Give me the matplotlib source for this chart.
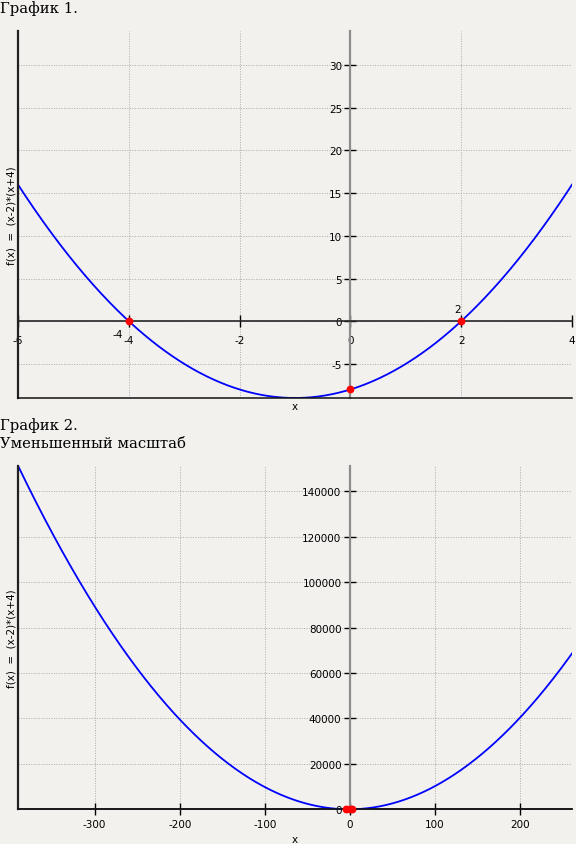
import numpy as np
import matplotlib
matplotlib.use("Agg")
import matplotlib.pyplot as plt

# Function shown on both charts: f(x) = (x-2)*(x+4)
roots = [-4, 2]
marked_x = [-4, 2, 0]

# Chart 1: close-up view
x1_range = (-6, 4)
y1_range = (-9, 34)
x1_ticks = [-6, -4, -2, 0, 2, 4]
y1_ticks = [-5, 0, 5, 10, 15, 20, 25, 30]

# Chart 2: zoomed-out view
x2_range = (-390, 261)
x2_ticks = [-300, -200, -100, 0, 100, 200]
y2_ticks = [0, 20000, 40000, 60000, 80000, 100000, 120000, 140000]

ylabel_text = "f(x)  =  (x-2)*(x+4)"
title1 = "График 1."
title2_lines = ["График 2.", "Уменьшенный масштаб"]

BG = "#f2f1ed"
TICK_FONT = 7.5
TITLE_FONT = 10.6


def f(x):
    return (x - roots[1]) * (x - roots[0])


def style_axes(ax, xlim, ylim, xticks, yticks, xpad):
    ax.set_facecolor(BG)
    ax.set_xlim(*xlim)
    ax.set_ylim(*ylim)
    ax.set_xticks(xticks)
    ax.set_yticks(yticks)
    ax.set_xticklabels([str(t) for t in xticks])
    ax.set_yticklabels([str(t) for t in yticks])
    for s in ("top", "right"):
        ax.spines[s].set_visible(False)
    ax.spines["left"].set_position(("data", 0))
    ax.spines["left"].set_color("#8c8c8c")
    ax.spines["left"].set_linewidth(1.6)
    ax.spines["bottom"].set_position(("data", 0))
    ax.spines["bottom"].set_color("#262626")
    ax.spines["bottom"].set_linewidth(1.2)
    ax.tick_params(axis="both", direction="inout", length=8, width=1.0,
                   color="black", labelsize=TICK_FONT, labelcolor="black")
    ax.tick_params(axis="y", pad=2.0)
    ax.tick_params(axis="x", pad=xpad)
    ax.grid(True, color="#b4b4b4", linestyle=(0, (1.2, 1.4)), linewidth=0.7)
    # outer frame lines on the left and bottom edges
    ax.plot([0, 0], [0, 1], transform=ax.transAxes, color="#222222",
            lw=1.6, clip_on=False, zorder=5)
    ax.plot([0, 1], [0, 0], transform=ax.transAxes, color="#111111",
            lw=1.1, clip_on=False, zorder=5)
    ax.set_ylabel(ylabel_text, fontsize=TICK_FONT)
    ax.yaxis.set_label_coords(-0.002, 0.5)
    ax.set_xlabel("x", fontsize=TICK_FONT)


fig = plt.figure(figsize=(5.76, 8.45), dpi=100, facecolor=BG)

W, H = 576.0, 845.0
ax1 = fig.add_axes([18 / W, (H - 399) / H, 554 / W, 367 / H])
ax2 = fig.add_axes([18 / W, (H - 810.3) / H, 554 / W, 343.6 / H])

# --- Chart 1 ---
style_axes(ax1, x1_range, y1_range, x1_ticks, y1_ticks, xpad=5.6)
x1 = np.linspace(x1_range[0], x1_range[1], 400)
ax1.plot(x1, f(x1), color="#0000ff", lw=1.3, zorder=3)
mx = np.array(marked_x, dtype=float)
ax1.plot(mx, f(mx), "o", color="#ff0000", ms=4.6, zorder=6, clip_on=False)
ax1.xaxis.set_label_coords(0.5, -0.007)
ax1.text(roots[0] - 0.1, f(roots[0]) - 1.45, str(roots[0]), ha="right",
         va="center", fontsize=TICK_FONT)
ax1.text(roots[1], f(roots[1]) + 1.4, str(roots[1]), ha="right",
         va="center", fontsize=TICK_FONT)

# --- Chart 2 ---
y2_range = (float(np.min(f(np.linspace(*x2_range, 2001)))), float(f(x2_range[0])))
style_axes(ax2, x2_range, y2_range, x2_ticks, y2_ticks, xpad=3.0)
x2 = np.linspace(x2_range[0], x2_range[1], 800)
ax2.plot(x2, f(x2), color="#0000ff", lw=1.3, zorder=3)
ax2.plot(mx, f(mx), "o", color="#ff0000", ms=4.6, zorder=6, clip_on=False)
ax2.xaxis.set_label_coords(0.5, -0.072)

# Titles
fig.text(0.0, 1 - 12.7 / H, title1, family="DejaVu Serif",
         fontsize=TITLE_FONT, va="baseline", ha="left")
fig.text(0.0, 1 - 430 / H, title2_lines[0], family="DejaVu Serif",
         fontsize=TITLE_FONT, va="baseline", ha="left")
fig.text(0.0, 1 - 448 / H, title2_lines[1], family="DejaVu Serif",
         fontsize=TITLE_FONT, va="baseline", ha="left")

fig.savefig("out.png", dpi=100, facecolor=BG)
